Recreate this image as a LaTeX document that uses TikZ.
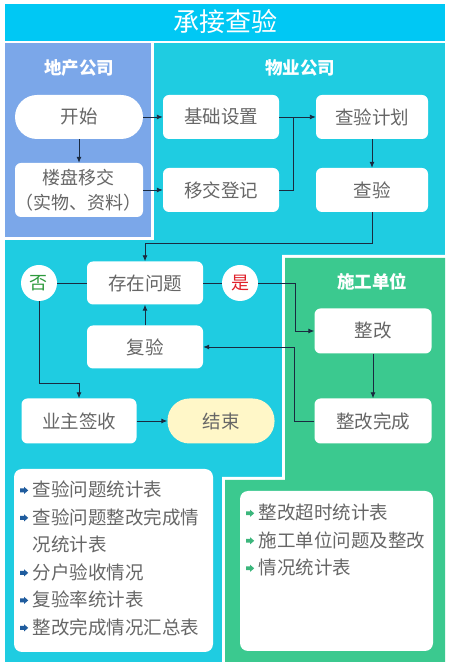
\documentclass[tikz,border=0pt]{standalone}
\usepackage{fontspec}
\setmainfont{Noto Sans CJK SC}
\usetikzlibrary{arrows.meta}
\definecolor{JYTitle}{HTML}{00C8F4}
\definecolor{JYCyan}{HTML}{1FCCE1}
\definecolor{JYBlue}{HTML}{7BA7E9}
\definecolor{JYGreen}{HTML}{3BC98F}
\definecolor{JYCream}{HTML}{FFF7C8}
\definecolor{JYLine}{HTML}{1A2A40}
\definecolor{JYText}{HTML}{666666}
\definecolor{JYNo}{HTML}{2E9A3C}
\definecolor{JYYes}{HTML}{E0202A}
\definecolor{JYBullet}{HTML}{1F5C9E}
\definecolor{JYBulletG}{HTML}{3BB67C}
% fat arrow bullet for the report lists
\newcommand{\jyarrow}[1]{\tikz[baseline=-6.5pt]\fill[#1] (0pt,-1.9pt) -- (3.8pt,-1.9pt) -- (3.8pt,-3.6pt)
  -- (8pt,0pt) -- (3.8pt,3.6pt) -- (3.8pt,1.9pt) -- (0pt,1.9pt) -- cycle;\hspace{4.5pt}}

\begin{document}
\begin{tikzpicture}[x=1pt,y=1pt,
  box/.style={fill=white,rounded corners=6pt,minimum width=116pt,minimum height=44pt,
    text=JYText,font=\fontsize{18.5}{25}\selectfont,inner sep=0pt},
  pill/.style={box,rounded corners=22pt},
  tag/.style={circle,fill=white,minimum size=36pt,inner sep=0pt,font=\fontsize{18}{18}\selectfont},
  head/.style={text=white,font=\bfseries\fontsize{17.5}{17.5}\selectfont},
  flow/.style={JYLine,line width=0.9pt},
  arr/.style={flow,-{Latex[length=6pt,width=5pt]}}]
\path[use as bounding box] (0,0) rectangle (450,667);
\fill[white] (0,0) rectangle (450,667);
% title bar
\fill[JYTitle] (5,626) rectangle (445,663);
\node[text=white,font=\fontsize{26}{26}\selectfont] (title) at (225,645) {承接查验};
% lanes
\fill[JYCyan] (5,5) rectangle (445,624);
\fill[white] (5,427) rectangle (154,624);
\fill[JYBlue] (5,430) rectangle (151,624);
\fill[white] (282,412) -- (445,412) -- (445,5) -- (222,5) -- (222,190) -- (282,190) -- cycle;
\fill[JYGreen] (285,409) -- (445,409) -- (445,5) -- (225,5) -- (225,187) -- (285,187) -- cycle;
\node[head] (devco) at (79,599) {地产公司};
\node[head] (propco) at (300,599) {物业公司};
\node[head] (builder) at (372,385) {施工单位};
% flow steps
\node[pill,minimum width=128pt] (start) at (79,550) {开始};
\node[box,minimum width=128pt,minimum height=54pt,align=center,font=\fontsize{18}{25}\selectfont] (handover) at (79,477) {楼盘移交\\（实物、资料）};
\node[box] (basic) at (221,550) {基础设置};
\node[box] (register) at (221,477) {移交登记};
\node[box,minimum width=112pt] (plan) at (372,550) {查验计划};
\node[box,minimum width=112pt] (inspect) at (372,477) {查验};
\node[box,minimum height=43pt] (issue) at (145,384) {存在问题};
\node[tag,text=JYNo] (no) at (39,384) {否};
\node[tag,text=JYYes] (yes) at (240,384) {是};
\node[box,minimum height=43pt] (recheck) at (145,320) {复验};
\node[box,minimum width=117pt,minimum height=45pt] (fix) at (373,336) {整改};
\node[box,minimum width=117pt,minimum height=45pt] (fixdone) at (373,246) {整改完成};
\node[box,minimum width=115pt,minimum height=45pt] (owner) at (79,246) {业主签收};
\node[pill,fill=JYCream,minimum width=107pt,minimum height=45pt] (finish) at (221,246) {结束};
\coordinate (join) at (293,550);
% connectors
\draw[arr] (start) -- (handover);
\draw[arr] (start) -- (basic);
\draw[arr] (handover) -- (register);
\draw[arr] (basic) -- (plan);
\draw[flow] (register.east) -| (join);
\draw[arr] (plan) -- (inspect);
\draw[arr] (inspect.south) -- ++(0,-31) -| (issue.north);
\draw[flow] (no) -- (issue);
\draw[flow] (issue) -- (yes);
\draw[arr] (yes.east) -- ++(37,0) |- (fix.west);
\draw[arr] (fix) -- (fixdone);
\draw[arr] (fixdone.west) -- ++(-20,0) |- (recheck.east);
\draw[arr] (recheck) -- (issue);
\draw[arr] (no.south) -- ++(0,-82) -| (owner.north);
\draw[arr] (owner) -- (finish);
% report lists
\fill[white,rounded corners=8pt] (14,15) rectangle (213,198);
\node[anchor=north west,align=left,inner sep=0pt,text=JYText,font=\fontsize{18.5}{27.5}\selectfont] (qalist) at (20,186)
  {\jyarrow{JYBullet}查验问题统计表\\
   \jyarrow{JYBullet}查验问题整改完成情\\
   \hphantom{\jyarrow{JYBullet}}况统计表\\
   \jyarrow{JYBullet}分户验收情况\\
   \jyarrow{JYBullet}复验率统计表\\
   \jyarrow{JYBullet}整改完成情况汇总表};
\fill[white,rounded corners=8pt] (240,16) rectangle (433,176);
\node[anchor=north west,align=left,inner sep=0pt,text=JYText,font=\fontsize{18.5}{27.5}\selectfont] (fixlist) at (246,163)
  {\jyarrow{JYBulletG}整改超时统计表\\
   \jyarrow{JYBulletG}施工单位问题及整改\\
   \jyarrow{JYBulletG}情况统计表};
\end{tikzpicture}
\end{document}
